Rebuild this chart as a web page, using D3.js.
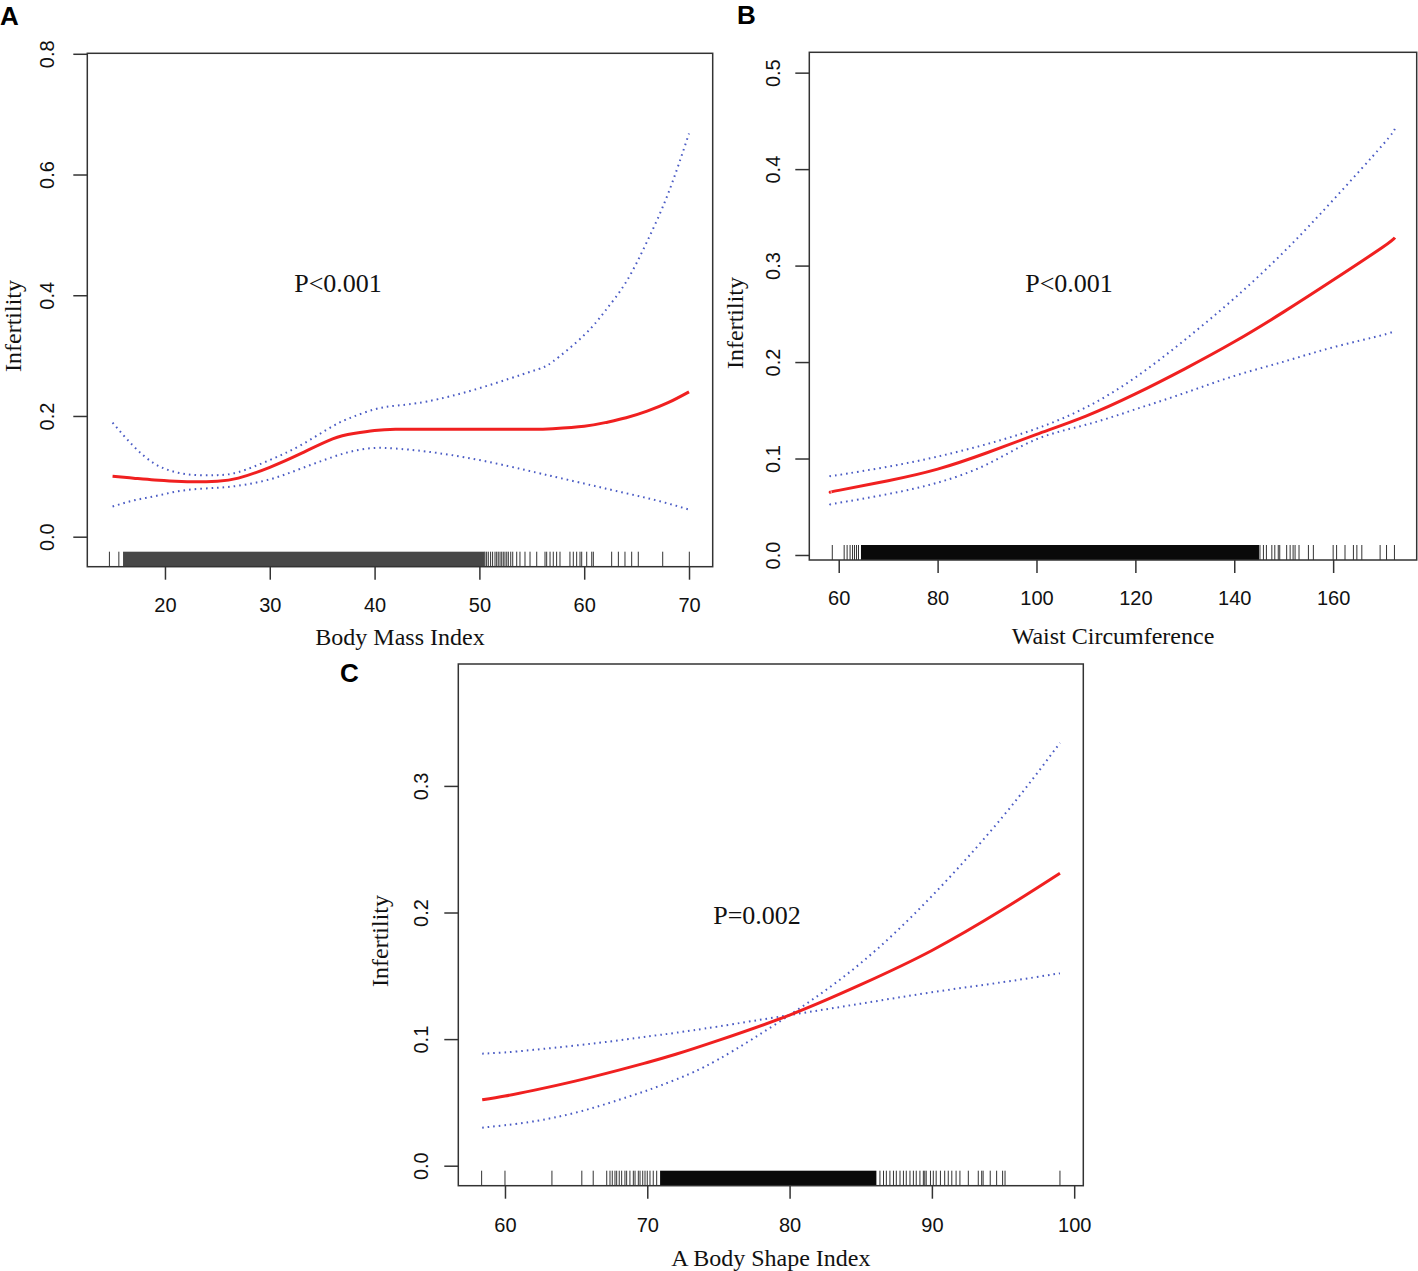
<!DOCTYPE html>
<html lang="en">
<head>
<meta charset="UTF-8">
<title>Infertility smooth curves</title>
<script src="https://d3js.org/d3.v7.min.js"></script>
<style>
    body { margin: 0; padding: 0; background: #fff; }
    .tick text { font-family: "Liberation Sans", Arial, sans-serif; font-size: 20px; fill: #111; }
    .tick line { stroke: #333; stroke-width: 1.5px; }
    .frame { fill: none; stroke: #333; stroke-width: 1.5px; }
    .fit { fill: none; stroke: #f02020; stroke-width: 3px; }
    .ci { fill: none; stroke: #4a5bc4; stroke-width: 2px; stroke-dasharray: 1.6, 4; }
    .rug { stroke: #333; stroke-width: 1px; }
    .serif { font-family: "Liberation Serif", "Times New Roman", serif; fill: #111; }
    .letter { font-family: "Liberation Sans", Arial, sans-serif; font-weight: bold; font-size: 26px; fill: #000; }
</style>
</head>
<body>
<div id="canvas"></div>
<script>
    // ---- panel A: Body Mass Index ----
    var xA = [15, 17, 19, 21, 23, 25, 27, 30, 33, 36, 38, 40, 42, 45, 50, 55, 57, 60, 62, 64, 66, 68, 70];
    var fitA = [0.100, 0.097, 0.094, 0.092, 0.091, 0.092, 0.097, 0.115, 0.138, 0.162, 0.171, 0.176, 0.178, 0.178, 0.178, 0.178, 0.179, 0.183, 0.189, 0.197, 0.208, 0.222, 0.240];
    var upperA = [0.189, 0.150, 0.121, 0.107, 0.102, 0.102, 0.107, 0.127, 0.152, 0.183, 0.199, 0.211, 0.217, 0.224, 0.246, 0.274, 0.290, 0.334, 0.374, 0.422, 0.489, 0.568, 0.668];
    var lowerA = [0.050, 0.060, 0.067, 0.0745, 0.079, 0.081, 0.0845, 0.095, 0.113, 0.132, 0.142, 0.147, 0.146, 0.141, 0.127, 0.108, 0.100, 0.088, 0.080, 0.072, 0.064, 0.055, 0.045];
    var rugBandA = [16.0, 50.5];
    var rugA = [14.7, 15.6, 50.53, 50.69, 50.85, 51.07, 51.26, 51.49, 51.65, 51.80, 51.97, 52.13, 52.28, 52.44, 52.61, 52.76, 52.99, 53.18,
                53.56, 53.87, 54.35, 54.83, 55.47, 56.26, 56.42, 56.74, 57.05, 57.37, 57.69, 58.64, 58.96, 59.28, 59.6, 59.76,
                60.24, 60.72, 60.87, 62.62, 63.26, 63.89, 64.53, 65.16, 67.49, 70.03];
    var xTicksA = [20, 30, 40, 50, 60, 70];
    var yTicksA = [0.0, 0.2, 0.4, 0.6, 0.8];

    // ---- panel B: Waist Circumference ----
    var xB = [58.4, 60, 70, 80, 90, 100, 110, 120, 130, 140, 150, 160, 170, 172.5];
    var fitB = [0.065, 0.067, 0.077, 0.089, 0.106, 0.125, 0.144, 0.167, 0.193, 0.221, 0.252, 0.285, 0.319, 0.329];
    var upperB = [0.082, 0.083, 0.0916, 0.102, 0.115, 0.131, 0.153, 0.184, 0.223, 0.266, 0.314, 0.368, 0.425, 0.442];
    var lowerB = [0.0525, 0.054, 0.0632, 0.075, 0.094, 0.120, 0.135, 0.151, 0.168, 0.1856, 0.2004, 0.2153, 0.228, 0.233];
    var rugBandB = [64.5, 145.0];
    var rugB = [58.7, 61.1, 61.7, 62.3, 62.8, 63.2, 63.6, 64.0,
                145.2, 145.9, 146.5, 147.6, 148.2, 148.9, 149.2, 150.6, 151.3, 151.9, 152.3, 153.1, 155.0, 156.0,
                160.0, 160.7, 162.4, 164.1, 164.8, 165.8, 169.5, 170.8, 172.4];
    var xTicksB = [60, 80, 100, 120, 140, 160];
    var yTicksB = [0.0, 0.1, 0.2, 0.3, 0.4, 0.5];

    // ---- panel C: A Body Shape Index ----
    var xC = [58.4, 60, 62, 65, 68, 70, 72, 75, 80, 85, 90, 95, 99];
    var fitC = [0.052, 0.055, 0.0595, 0.067, 0.0755, 0.0815, 0.088, 0.099, 0.119, 0.143, 0.170, 0.2025, 0.231];
    var flatCiC = [0.0885, 0.0895, 0.0915, 0.095, 0.099, 0.102, 0.105, 0.110, 0.119, 0.128, 0.137, 0.145, 0.152];
    var steepCiC = [0.030, 0.032, 0.035, 0.042, 0.052, 0.0595, 0.068, 0.084, 0.119, 0.160, 0.213, 0.276, 0.334];
    var rugBandC = [70.9, 86.1];
    var rugC = [58.36, 60.0, 63.3, 65.4, 66.2, 67.15, 67.38, 67.54, 67.73, 67.85, 68.03, 68.2, 68.43, 68.55, 68.78, 69.02, 69.14,
                69.37, 69.49, 69.68, 69.84, 70.0, 70.19, 70.42, 70.66,
                86.35, 86.6, 86.8, 87.05, 87.3, 87.5, 87.76, 88.0, 88.2, 88.46, 88.7, 88.9, 89.16, 89.4, 89.5, 89.6, 89.9,
                90.1, 90.3, 90.6, 90.9, 91.15, 91.4, 91.7, 91.97, 92.56, 93.26, 93.5, 93.6, 94.1, 94.55, 94.97, 95.14, 99.0];
    var xTicksC = [60, 70, 80, 90, 100];
    var yTicksC = [0.0, 0.1, 0.2, 0.3];

    var svg = d3.select("#canvas").append("svg")
        .attr("width", 1418)
        .attr("height", 1271);

    function zip(xs, ys) {
        return xs.map(function(x, i) { return {x: x, y: ys[i]}; });
    }

    // 每個面板的版面設定
    var panels = [
        {letter: "A", lx: 0, ly: 25, box: {l: 87.3, t: 53.3, r: 712.7, b: 566.7},
         xDom: [12.59, 72.26], yDom: [-0.0497, 0.8008],
         xs: xA, fit: fitA, cis: [upperA, lowerA], rug: rugA, band: rugBandA, bandColor: "#484848",
         xTicks: xTicksA, yTicks: yTicksA, yFmt: ".1f",
         xLab: "Body Mass Index", xLabY: 645, yLabX: 21, yLabY: 326, yTickX: 33, xTickY: 45,
         pText: "P<0.001", px: 338, py: 292},
        {letter: "B", lx: 737, ly: 24, box: {l: 809.3, t: 52.3, r: 1416.7, b: 560},
         xDom: [54.05, 176.9], yDom: [-0.0052, 0.5211],
         xs: xB, fit: fitB, cis: [upperB, lowerB], rug: rugB, band: rugBandB, bandColor: "#0a0a0a",
         xTicks: xTicksB, yTicks: yTicksB, yFmt: ".1f",
         xLab: "Waist Circumference", xLabY: 644, yLabX: 743, yLabY: 323, yTickX: 29, xTickY: 45,
         pText: "P<0.001", px: 1069, py: 292},
        {letter: "C", lx: 340, ly: 682, box: {l: 458.3, t: 664, r: 1083.3, b: 1185.7},
         xDom: [56.72, 100.64], yDom: [-0.0158, 0.3963],
         xs: xC, fit: fitC, cis: [flatCiC, steepCiC], rug: rugC, band: rugBandC, bandColor: "#0a0a0a",
         xTicks: xTicksC, yTicks: yTicksC, yFmt: ".1f",
         xLab: "A Body Shape Index", xLabY: 1266, yLabX: 388, yLabY: 941, yTickX: 30, xTickY: 46,
         pText: "P=0.002", px: 757, py: 924}
    ];

    panels.forEach(function(p) {
        var x = d3.scaleLinear().domain(p.xDom).range([p.box.l, p.box.r]);
        var y = d3.scaleLinear().domain(p.yDom).range([p.box.b, p.box.t]);
        var g = svg.append("g");

        var line = d3.line()
            .x(function(d) { return x(d.x); })
            .y(function(d) { return y(d.y); })
            .curve(d3.curveNatural);

        // rug：密集區段畫成一塊，稀疏處逐條畫
        g.append("rect")
            .attr("x", x(p.band[0]))
            .attr("width", x(p.band[1]) - x(p.band[0]))
            .attr("y", p.box.b - 15)
            .attr("height", 15)
            .attr("fill", p.bandColor);

        g.selectAll("line.rug")
            .data(p.rug)
            .enter().append("line")
            .attr("class", "rug")
            .attr("x1", function(d) { return x(d); })
            .attr("x2", function(d) { return x(d); })
            .attr("y1", p.box.b - 15)
            .attr("y2", p.box.b);

        p.cis.forEach(function(ci) {
            g.append("path")
                .datum(zip(p.xs, ci))
                .attr("class", "ci")
                .attr("d", line);
        });

        g.append("path")
            .datum(zip(p.xs, p.fit))
            .attr("class", "fit")
            .attr("d", line);

        // x 軸
        var xAxis = g.append("g")
            .attr("transform", "translate(0," + p.box.b + ")")
            .call(d3.axisBottom(x).tickValues(p.xTicks).tickSize(13).tickSizeOuter(0).tickFormat(d3.format("d")));
        xAxis.select(".domain").remove();
        xAxis.selectAll(".tick text")
            .attr("y", p.xTickY)
            .attr("dy", 0);

        // y 軸（刻度文字旋轉 90 度）
        var yAxis = g.append("g")
            .attr("transform", "translate(" + p.box.l + ",0)")
            .call(d3.axisLeft(y).tickValues(p.yTicks).tickSize(14).tickSizeOuter(0).tickFormat(d3.format(p.yFmt)));
        yAxis.select(".domain").remove();
        yAxis.selectAll(".tick text")
            .attr("x", 0)
            .attr("dy", 0)
            .attr("text-anchor", "middle")
            .attr("transform", "translate(" + (-p.yTickX) + ",0) rotate(-90)");

        g.append("rect")
            .attr("class", "frame")
            .attr("x", p.box.l)
            .attr("y", p.box.t)
            .attr("width", p.box.r - p.box.l)
            .attr("height", p.box.b - p.box.t);

        g.append("text")
            .attr("class", "serif")
            .attr("x", (p.box.l + p.box.r) / 2)
            .attr("y", p.xLabY)
            .attr("text-anchor", "middle")
            .style("font-size", "24px")
            .text(p.xLab);

        g.append("text")
            .attr("class", "serif")
            .attr("transform", "translate(" + p.yLabX + "," + p.yLabY + ") rotate(-90)")
            .attr("text-anchor", "middle")
            .style("font-size", "24px")
            .text("Infertility");

        g.append("text")
            .attr("class", "serif")
            .attr("x", p.px)
            .attr("y", p.py)
            .attr("text-anchor", "middle")
            .style("font-size", "26px")
            .text(p.pText);

        g.append("text")
            .attr("class", "letter")
            .attr("x", p.lx)
            .attr("y", p.ly)
            .text(p.letter);
    });
</script>
</body>
</html>
